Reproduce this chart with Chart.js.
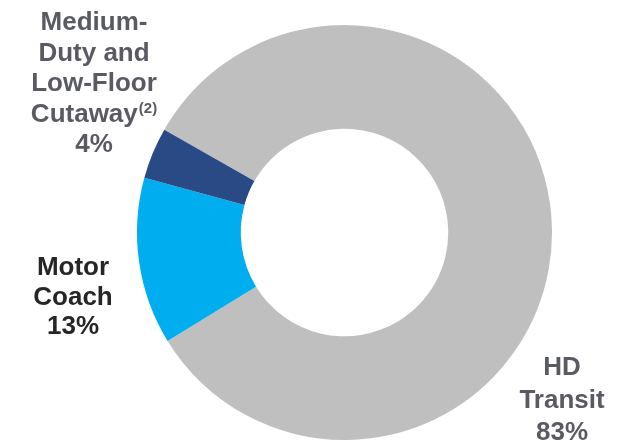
<!DOCTYPE html>
<html>
<head>
<meta charset="utf-8">
<script src="https://cdn.jsdelivr.net/npm/chart.js@4/dist/chart.umd.min.js"></script>
<style>
html,body{margin:0;padding:0;background:#fff;}
canvas{display:block;}
</style>
</head>
<body>
<canvas id="c" width="631" height="444"></canvas>
<script>
const categories = ["HD Transit", "Motor Coach", "Medium-Duty and Low-Floor Cutaway"];
const shares = [83, 13, 4];
const sliceColors = ["#bfbfbf", "#00aeef", "#2a4a86"];
const valueLabels = ["83%", "13%", "4%"];

const labelPlugin = {
  id: 'sliceLabels',
  afterDraw(chart) {
    const ctx = chart.ctx;
    const font = 'bold 26px "Liberation Sans", Arial, sans-serif';
    const supFont = 'bold 15px "Liberation Sans", Arial, sans-serif';
    const blocks = [
      {x: 562, y: 375, lh: 32.5, color: '#595a62', lines: [["HD"], ["Transit"], [valueLabels[0]]]},
      {x: 73, y: 275, lh: 29.5, color: '#262626', lines: [["Motor"], ["Coach"], [valueLabels[1]]]},
      {x: 94, y: 30, lh: 30.5, color: '#595a62', lines: [["Medium-"], ["Duty and"], ["Low-Floor"], ["Cutaway", "(2)"], [valueLabels[2]]]}
    ];
    ctx.save();
    ctx.textBaseline = 'alphabetic';
    ctx.textAlign = 'left';
    blocks.forEach(b => {
      ctx.fillStyle = b.color;
      b.lines.forEach((ln, i) => {
        const y = b.y + i * b.lh;
        ctx.font = font;
        const w1 = ctx.measureText(ln[0]).width;
        let w2 = 0;
        if (ln[1]) { ctx.font = supFont; w2 = ctx.measureText(ln[1]).width + 1; }
        const x0 = b.x - (w1 + w2) / 2;
        ctx.font = font;
        ctx.fillText(ln[0], x0, y);
        if (ln[1]) { ctx.font = supFont; ctx.fillText(ln[1], x0 + w1 + 1, y - 9); }
      });
    });
    ctx.restore();
  }
};

new Chart(document.getElementById('c'), {
  type: 'doughnut',
  data: {
    labels: categories,
    datasets: [{
      data: shares,
      backgroundColor: sliceColors,
      borderWidth: 0,
      hoverOffset: 0
    }]
  },
  options: {
    responsive: false,
    animation: false,
    rotation: -60.3,
    cutout: '50%',
    layout: {padding: {left: 137, right: 79, top: 25, bottom: 4}},
    plugins: {legend: {display: false}, tooltip: {enabled: false}}
  },
  plugins: [labelPlugin]
});
</script>
</body>
</html>
